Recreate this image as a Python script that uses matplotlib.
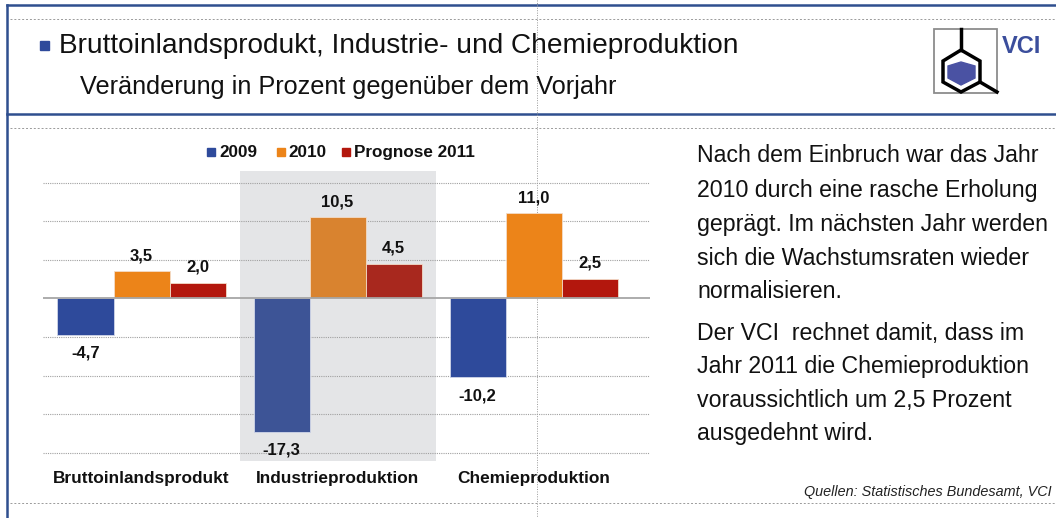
import matplotlib
matplotlib.use("Agg")
import matplotlib.pyplot as plt
from matplotlib.patches import Rectangle, Polygon
from matplotlib.lines import Line2D

plt.rcParams['font.family'] = ['Liberation Sans', 'DejaVu Sans']

# ---------------- data ----------------
categories = ["Bruttoinlandsprodukt", "Industrieproduktion", "Chemieproduktion"]
series_names = ["2009", "2010", "Prognose 2011"]
values_2009 = [-4.7, -17.3, -10.2]
values_2010 = [3.5, 10.5, 11.0]
values_2011 = [2.0, 4.5, 2.5]
y_grid = [-20, -15, -10, -5, 5, 10, 15]

title = "Bruttoinlandsprodukt, Industrie- und Chemieproduktion"
subtitle = "Veränderung in Prozent gegenüber dem Vorjahr"
para_lines = [
    "Nach dem Einbruch war das Jahr",
    "2010 durch eine rasche Erholung",
    "geprägt. Im nächsten Jahr werden",
    "sich die Wachstumsraten wieder",
    "normalisieren.",
    "Der VCI  rechnet damit, dass im",
    "Jahr 2011 die Chemieproduktion",
    "voraussichtlich um 2,5 Prozent",
    "ausgedehnt wird.",
]
source = "Quellen: Statistisches Bundesamt, VCI"

# ---------------- styles ----------------
W, H = 1056, 518
series_colors = [
    ["#2E4A9B", "#3D5496", "#2E4A9B"],
    ["#EC8419", "#D9832F", "#EC8419"],
    ["#B3170D", "#A8281E", "#B3170D"],
]
legend_colors = ["#2E4A9B", "#EC8419", "#B3170D"]
border_blue = "#2F4F8F"
guide_gray = "#9A9A9A"

fig = plt.figure(figsize=(W / 100, H / 100), dpi=100)

# overlay axes in pixel coordinates (y downwards)
bg = fig.add_axes([0, 0, 1, 1], zorder=0)
bg.set_xlim(0, W)
bg.set_ylim(H, 0)
bg.axis("off")

# frame lines
bg.add_line(Line2D([7, W], [5, 5], color=border_blue, lw=1.8))
bg.add_line(Line2D([7, W], [114, 114], color=border_blue, lw=1.8))
bg.add_line(Line2D([7, 7], [5, H], color=border_blue, lw=1.8))
# guide lines
for yy in (19, 128, 503):
    bg.add_line(Line2D([10, W], [yy, yy], color=guide_gray, lw=0.7, ls=(0, (2, 2))))
bg.add_line(Line2D([537, 537], [0, H], color=guide_gray, lw=0.7, ls=(0, (1, 1.5))))

# title
bg.add_patch(Rectangle((40, 41), 9, 9, color="#2E4A9B"))
bg.text(59, 53, title, fontsize=20.2, va="baseline", ha="left", color="#111111")
bg.text(80, 94, subtitle, fontsize=18.2, va="baseline", ha="left", color="#111111")

# logo
bg.add_patch(Rectangle((934, 29), 63, 64, fill=False, ec="#8C8C8C", lw=1.3))
bg.add_line(Line2D([961, 961], [29, 50], color="black", lw=2.5))
bg.add_patch(Polygon([(961, 50), (980, 61), (980, 82), (961, 92), (943, 82), (943, 61)],
                     closed=True, fill=False, ec="black", lw=2.5))
bg.add_line(Line2D([980, 997], [82, 92], color="black", lw=2.5))
bg.add_patch(Polygon([(948, 66), (961, 62), (975, 66), (975, 78), (961, 85), (948, 78)],
                     closed=True, color="#4A52A3"))
bg.text(1002, 53, "VCI", fontsize=17, fontweight="bold", color="#3B4E9C",
        family=["Liberation Sans Narrow", "Liberation Sans"], va="baseline", ha="left")

# paragraph text
line_y = [162, 197, 231, 265, 298, 340, 373, 407, 440]
for txt, yy in zip(para_lines, line_y):
    bg.text(697, yy, txt, fontsize=16.7, va="baseline", ha="left", color="#111111")

bg.text(1052, 496, source, fontsize=10.4, style="italic", ha="right", va="baseline", color="#222222")

# legend
leg_sq_x = [207, 277, 342]
leg_tx_x = [219, 288, 354]
for c, sx, tx, name in zip(legend_colors, leg_sq_x, leg_tx_x, series_names):
    bg.add_patch(Rectangle((sx, 148), 8, 8, color=c))
    bg.text(tx, 157, name, fontsize=12.3, fontweight="bold", va="baseline", ha="left", color="#111111")

# ---------------- chart ----------------
ax_l, ax_r, ax_t, ax_b = 43, 650, 171, 461
ax = fig.add_axes([ax_l / W, 1 - ax_b / H, (ax_r - ax_l) / W, (ax_b - ax_t) / H], zorder=1)
ax.patch.set_alpha(0)
cat_px = 196.0
x0 = -(141.5 - ax_l) / cat_px
ax.set_xlim(x0, x0 + (ax_r - ax_l) / cat_px)
px_per_unit = 38.6 / 5
zero_px = 298.3
ax.set_ylim(-(ax_b - zero_px) / px_per_unit, (zero_px - ax_t) / px_per_unit)
for s in ax.spines.values():
    s.set_visible(False)
ax.set_xticks([])
ax.set_yticks([])

ax.axvspan(0.5, 1.5, color="#E4E5E7", zorder=0, lw=0)
for g in y_grid:
    ax.axhline(g, color="#A0A0A0", lw=0.8, ls=(0, (1, 1)), zorder=1)

bw = 56 / cat_px
offsets = [-bw, 0, bw]
all_series = [values_2009, values_2010, values_2011]
for si, (vals, cols, off) in enumerate(zip(all_series, series_colors, offsets)):
    for ci, v in enumerate(vals):
        ax.bar(ci + off, v, width=bw, color=cols[ci], edgecolor="#F3DCC8" if si else "#D0D6E8",
               linewidth=0.6, zorder=2)
        lab = f"{v:.1f}".replace(".", ",")
        if v >= 0:
            ax.annotate(lab, (ci + off, v), xytext=(0, 8), textcoords="offset points",
                        ha="center", va="baseline", fontsize=12, fontweight="bold", color="#111111")
        else:
            ax.annotate(lab, (ci + off, v), xytext=(0, -8), textcoords="offset points",
                        ha="center", va="top", fontsize=12, fontweight="bold", color="#111111")

ax.axhline(0, color="#A6A6A6", lw=1.3, zorder=3)

trans = ax.get_xaxis_transform()
for ci, name in enumerate(categories):
    ax.text(ci, -(478 - ax_b) / (ax_b - ax_t), name, transform=trans, ha="center", va="center",
            fontsize=12.4, fontweight="bold", color="#111111")

fig.savefig("out.png", dpi=100)
